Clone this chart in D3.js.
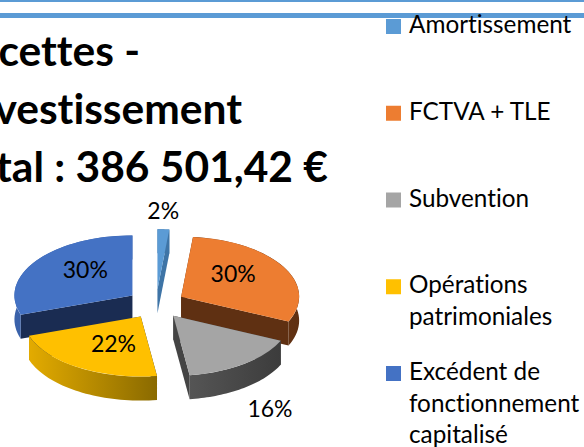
<!DOCTYPE html>
<html>
<head>
<meta charset="utf-8">
<script src="https://cdnjs.cloudflare.com/ajax/libs/d3/7.8.5/d3.min.js"></script>
<style>
  html, body { margin: 0; padding: 0; background: #fff; overflow: hidden; }
  text { font-family: Lato, "Open Sans", sans-serif; fill: #000; font-variant-ligatures: none; }
</style>
</head>
<body>
<div id="chart"></div>
<script>
const categories = ['Amortissement', 'FCTVA + TLE', 'Subvention', 'Opérations patrimoniales', 'Excédent de fonctionnement capitalisé'];
const values = [1.6, 30.2, 16, 22, 30.2];
const legendLines = [['Amortissement'], ['FCTVA + TLE'], ['Subvention'], ['Opérations', 'patrimoniales'], ['Excédent de', 'fonctionnement', 'capitalisé']];
const titleLines = ['Recettes -', 'Investissement', 'Total : 386 501,42 €'];

const colors = ['#5b9bd5', '#ed7d31', '#a5a5a5', '#ffc000', '#4472c4'];
const wallColors = ['#3e74a6', '#5f3012', '#444444', '#1a2c52', '#1a2c52'];
// outer rim shading, left to right
const rimColors = [['#3e74a6', '#3e74a6'], ['#7a3d16', '#5f3012'], ['#555555', '#3c3c3c'], ['#e3ab00', '#8a6a00'], ['#3a62aa', '#3a62aa']];
// label distance from slice apex, and a small pixel nudge
const labelRadius = [155, 60, 165, 52, 58];
const labelNudge = [[-2, 0], [0, -7], [-2, 26], [0, 5], [0, -8]];

const width = 584;
const height = 447;
const cx = 156, cy = 304;
const rx = 118, ry = 60, depth = 24, explode = 29;
const squash = ry / rx;

const svg = d3.select('#chart').append('svg')
  .attr('width', width)
  .attr('height', height)
  .attr('viewBox', [0, 0, width, height]);

// top rules
svg.append('rect').attr('x', 0).attr('y', 0).attr('width', width).attr('height', 2).attr('fill', '#5b9bd5');
svg.append('rect').attr('x', 0).attr('y', 13).attr('width', width).attr('height', 5).attr('fill', '#5b9bd5');

// title, runs off the left side
const titleEnd = [140, 242, 328];
svg.selectAll('.title').data(titleLines).join('text')
  .attr('class', 'title')
  .attr('x', (d, i) => titleEnd[i])
  .attr('y', (d, i) => 66 + i * 58)
  .attr('text-anchor', 'end')
  .attr('font-size', 42.5)
  .attr('font-weight', 700)
  .text(d => d);

const total = d3.sum(values);
const pie = d3.pie().sort(null)(values);
const arc = d3.arc().innerRadius(0).outerRadius(rx);

const defs = svg.append('defs');
rimColors.forEach((c, i) => {
  const g = defs.append('linearGradient').attr('id', 'rim' + i);
  g.append('stop').attr('offset', '0%').attr('stop-color', c[0]);
  g.append('stop').attr('offset', '100%').attr('stop-color', c[1]);
});

function apex(d) {
  const mid = (d.startAngle + d.endAngle) / 2;
  return [cx + explode * Math.sin(mid), cy - explode * squash * Math.cos(mid)];
}
function rimPoint(d, a, r, drop) {
  const p = apex(d);
  return [p[0] + r * Math.sin(a), p[1] - r * squash * Math.cos(a) + drop];
}

const line = d3.line();
// back slices first so the front ones sit on top
const order = pie.slice().sort((a, b) => apex(a)[1] - apex(b)[1]);

const slices = svg.selectAll('.slice').data(order).join('g').attr('class', 'slice');

slices.each(function (d) {
  const g = d3.select(this);
  const steps = d3.range(0, 41).map(k => d.startAngle + (d.endAngle - d.startAngle) * k / 40);
  const top = steps.map(a => rimPoint(d, a, rx, 0));
  const bottom = steps.map(a => rimPoint(d, a, rx, depth)).reverse();

  // radial walls
  [d.startAngle, d.endAngle].forEach(a => {
    g.append('path')
      .attr('d', line([rimPoint(d, a, 0, 0), rimPoint(d, a, rx, 0), rimPoint(d, a, rx, depth), rimPoint(d, a, 0, depth)]) + 'Z')
      .attr('fill', wallColors[d.index]);
  });
  // outer rim
  g.append('path')
    .attr('d', line(top.concat(bottom)) + 'Z')
    .attr('fill', `url(#rim${d.index})`);
  // top face
  const p = apex(d);
  g.append('path')
    .attr('transform', `translate(${p[0]},${p[1]}) scale(1,${squash})`)
    .attr('d', arc(d))
    .attr('fill', colors[d.index]);
});

// percentage labels
svg.selectAll('.pct').data(pie).join('text')
  .attr('class', 'pct')
  .attr('text-anchor', 'middle')
  .attr('font-size', 23)
  .attr('x', d => rimPoint(d, (d.startAngle + d.endAngle) / 2, labelRadius[d.index], 0)[0] + labelNudge[d.index][0])
  .attr('y', d => rimPoint(d, (d.startAngle + d.endAngle) / 2, labelRadius[d.index], 0)[1] + labelNudge[d.index][1] + 8)
  .text(d => d3.format('.0f')(d.value / total * 100) + '%');

// legend
const legendY = d3.scaleLinear().domain([0, categories.length - 1]).range([33, 380]);
const legend = svg.selectAll('.legend').data(categories).join('g')
  .attr('class', 'legend')
  .attr('transform', (d, i) => `translate(386,${legendY(i)})`);
legend.append('rect')
  .attr('x', 0).attr('y', -14).attr('width', 15).attr('height', 15)
  .attr('fill', (d, i) => colors[i]);
legend.each(function (d, i) {
  d3.select(this).selectAll('text').data(legendLines[i]).join('text')
    .attr('x', 23)
    .attr('y', (t, k) => k * 31.5)
    .attr('font-size', 24.3)
    .text(t => t);
});
</script>
</body>
</html>
